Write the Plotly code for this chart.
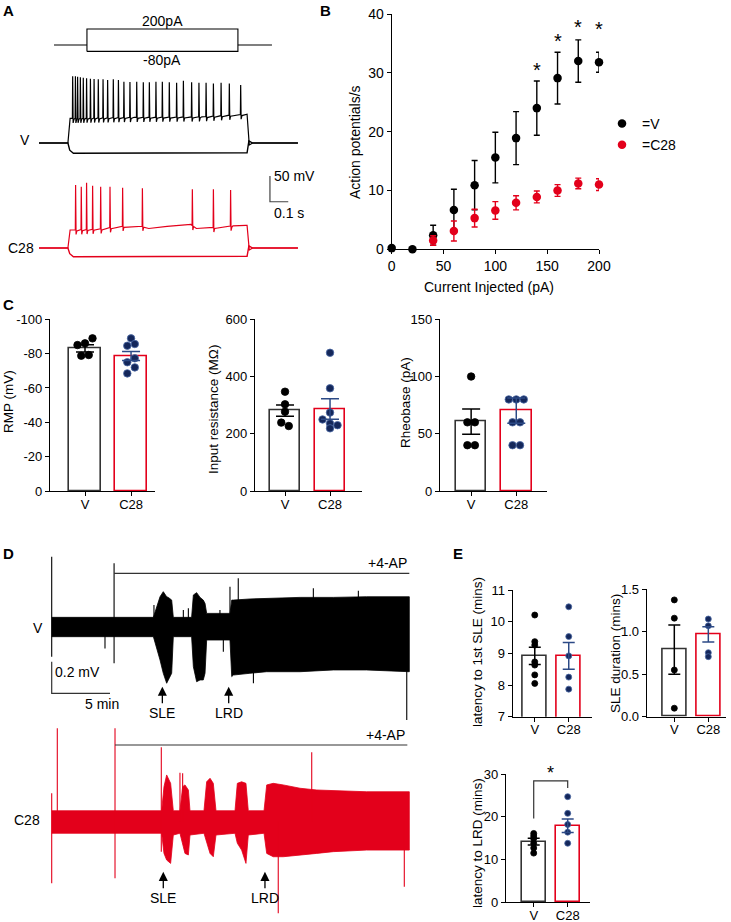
import numpy as np
import plotly.graph_objects as go

W, H = 731, 922
FONT = "Liberation Sans, Arial, Helvetica, sans-serif"
RED = "#e3001b"
NAVY = "#14275a"
NAVY_EDGE = "#4b6aa6"
NAVY_ERR = "#2c4a86"
BAR_V = "#333333"

# ---------------- Panel A: current-clamp traces ----------------
A_STIM_PA = [200, -80]            # step amplitudes (pA)
A_STIM_T = [0.262, 1.087]         # schematic step on/off (s)
A_STIM_LEAD = [0.082, 1.273]      # schematic lead start/end (s)
A_REST = -80                      # mV
A_ON, A_OFF, A_END = 0.158, 1.137, 1.415
A_V_SPK_T = [0.184, 0.199, 0.211, 0.226, 0.242, 0.260, 0.281, 0.301, 0.324, 0.350,
             0.375, 0.406, 0.434, 0.464, 0.497, 0.534, 0.570, 0.603, 0.639, 0.674,
             0.712, 0.752, 0.789, 0.834, 0.874, 0.913, 0.953, 0.995, 1.040, 1.102]
A_V_SPK_PK = [50, 50, 49, 47.8, 47, 45.8, 45.2, 44.5, 43.9, 43.9,
              42.6, 43.9, 42.6, 39.3, 38.7, 39.3, 38, 38, 39.3, 39.3,
              38, 37.4, 41.3, 38, 37.4, 37.4, 36, 37.4, 36, 32.8]
A_V_PLAT_T = [0.17, 0.52, 0.89, 1.13]
A_V_PLAT_MV = [-32, -30, -29, -24]
A_V_HYP = -100
A_C_SPK_T = [0.200, 0.231, 0.260, 0.293, 0.337, 0.388, 0.457, 0.565, 0.838, 0.953, 1.047]
A_C_SPK_PK = [42.6, 39.3, 47.1, 41.3, 39.3, 39.3, 37.4, 36.1, 34.1, 34.1, 32.8]
A_C_PLAT_T = [0.17, 0.33, 0.44, 0.56, 0.60, 0.70, 0.83, 0.86, 0.95, 1.06, 1.13]
A_C_PLAT_MV = [-45, -43, -38, -37, -42, -38, -34, -42, -40, -37, -36]
A_C_HYP = -97
A_SCALE_MV, A_SCALE_S = 50, 0.1
A_SCALE_AT = (1.262, 10)

# ---------------- Panel B: F-I curve ----------------
B_CURRENT = [0, 20, 40, 60, 80, 100, 120, 140, 160, 180, 200]
B_V_MEAN = [0.2, 0.0, 2.4, 6.7, 10.9, 15.6, 18.9, 24.0, 29.1, 32.0, 31.8]
B_V_SEM = [0, 0, 1.7, 3.5, 4.2, 4.3, 4.5, 4.6, 4.4, 3.6, 1.7]
B_C_CURRENT = [40, 60, 80, 100, 120, 140, 160, 180, 200]
B_C_MEAN = [1.5, 3.1, 5.3, 6.6, 7.9, 8.9, 10.0, 11.2, 11.0]
B_C_SEM = [0.8, 1.7, 1.5, 1.5, 1.2, 1.0, 1.0, 0.9, 1.0]
B_SIG_X = [140, 160, 180, 200]
B_SIG_Y = [31.0, 35.9, 38.3, 38.0]

# ---------------- Panel C: passive properties ----------------
GROUPS = ["V", "C28"]
RMP_V = [-88.9, -86.0, -85.0, -78.8, -79.2]
RMP_C = [-88.9, -85.6, -84.6, -75.0, -77.3, -72.0, -68.5]
RMP_MEAN, RMP_SEM = [-83.1, -78.6], [2.1, 2.6]
IR_V = [347, 303, 277, 239, 227]
IR_C = [483, 359, 274, 250, 236, 230, 219]
IR_MEAN, IR_SEM = [280.8, 286.6], [20, 36]
RH_V = [100, 60, 60, 40, 40]
RH_C = [80, 80, 80, 60, 60, 40, 40]
RH_MEAN, RH_SEM = [60.6, 70.2], [11, 11]

# ---------------- Panel D: extracellular recordings (envelopes, min / mV) ----------------
DV_T = [0, 8.72, 9.29, 9.57, 9.86, 10.0, 10.29, 10.43, 12.0, 12.15, 12.43, 12.72, 13.0, 13.15,
        13.29, 15.29, 15.44, 15.58, 17.0, 18.43, 21.3, 24.15, 27.0, 30.67]
DV_TOP = [0.059, 0.059, 0.189, 0.221, 0.189, 0.185, 0.168, 0.059, 0.059, 0.2, 0.215, 0.185, 0.168,
          0.147, 0.084, 0.084, 0.168, 0.168, 0.175, 0.179, 0.185, 0.185, 0.189, 0.189]
DV_BOT = [-0.063, -0.063, -0.21, -0.294, -0.357, -0.336, -0.294, -0.063, -0.063, -0.252, -0.347,
          -0.336, -0.336, -0.294, -0.084, -0.084, -0.315, -0.305, -0.294, -0.284, -0.284, -0.273,
          -0.273, -0.284]
DV_EV_T = [0, 4.57, 5.35, 8.77, 11.29, 11.72, 14.43, 14.72, 15.29, 16.0, 17.3, 22.44, 26.3, 30.45]
DV_EV_TOP = [0.442, 0.0, 0.40, 0.137, 0.105, 0.116, 0.105, 0.0, 0.252, 0.305, 0.0, 0.242, 0.227, 0.185]
DV_EV_BOT = [-0.189, -0.137, -0.231, 0.0, 0.0, 0.0, 0.0, -0.158, 0.0, 0.0, -0.357, 0.0, 0.0, -0.589]
DC_T = [0, 9.43, 9.63, 9.86, 10.2, 10.43, 11.0, 11.23, 11.43, 11.72, 11.86, 13.06, 13.29, 13.58,
        13.86, 14.09, 15.72, 15.92, 16.29, 16.66, 16.86, 18.21, 18.44, 19.0, 19.86, 21.3, 22.73,
        24.15, 27.0, 30.67]
DC_TOP = [0.069, 0.069, 0.221, 0.295, 0.242, 0.069, 0.069, 0.221, 0.232, 0.2, 0.069, 0.069, 0.252,
          0.274, 0.242, 0.069, 0.069, 0.242, 0.252, 0.242, 0.069, 0.069, 0.232, 0.242, 0.232, 0.211,
          0.2, 0.196, 0.189, 0.189]
DC_BOT = [-0.073, -0.073, -0.2, -0.242, -0.263, -0.084, -0.073, -0.136, -0.2, -0.21, -0.084, -0.073,
          -0.136, -0.2, -0.221, -0.084, -0.073, -0.136, -0.179, -0.263, -0.084, -0.073, -0.2, -0.221,
          -0.221, -0.21, -0.2, -0.189, -0.179, -0.179]
DC_EV_T = [0, 0.48, 5.43, 9.4, 11.0, 11.23, 19.43, 22.3, 30.24]
DC_EV_TOP = [0.179, 0.589, 0.589, 0.469, 0.309, 0.305, 0.0, 0.438, 0.0]
DC_EV_BOT = [-0.389, 0.05, -0.357, -0.189, 0.0, 0.0, -0.578, 0.0, -0.41]
D_AP4 = {"V": (5.35, 30.67, 0.337), "C28": (5.43, 30.5, 0.484)}
D_EVENTS = {"V": {"SLE": (9.49, -0.379), "LRD": (15.18, -0.379)},
            "C28": {"SLE": (9.57, -0.316), "LRD": (18.29, -0.316)}}
D_SCALE_MV, D_SCALE_MIN = 0.2, 5
D_SCALE_AT = (0, -0.421)

# ---------------- Panel E: seizure-like event measures ----------------
E1_V = [10.21, 9.37, 9.26, 8.73, 8.63, 8.32, 8.05]
E1_C = [10.47, 9.53, 8.92, 8.25, 7.87]
E1_MEAN, E1_SEM = [8.92, 8.92], [0.27, 0.42]
E2_V = [1.375, 1.16, 0.55, 0.10]
E2_C = [1.15, 1.07, 0.754, 0.707]
E2_MEAN, E2_SEM = [0.79, 0.97], [0.29, 0.09]
E3_V = [16.1, 15.5, 14.9, 13.8, 12.7, 11.5]
E3_C = [24.7, 20.8, 18.2, 16.4, 13.8]
E3_MEAN, E3_SEM = [14.2, 17.9], [0.8, 1.6]
E3_SIG = (19.6, 28.4, 26.7)


# ---------------- helpers ----------------
def xd(a, b):
    return [a / W, b / W]


def yd(top, bottom):
    return [1 - bottom / H, 1 - top / H]


def P(x, y):
    return dict(x=x / W, y=1 - y / H, xref="paper", yref="paper", xanchor="center", yanchor="middle")


fig = go.Figure()
ann = []


def depol_trace(spk_t, spk_pk, plat_t, plat_mv):
    pts = [(0, A_REST), (A_ON, A_REST)]
    pts += list(zip(plat_t, plat_mv))
    for t, pk in zip(spk_t, spk_pk):
        base = float(np.interp(t, plat_t, plat_mv))
        pts += [(t - 0.0015, base), (t, pk), (t + 0.0025, base - 9), (t + 0.007, base - 2)]
    pts.sort(key=lambda p: p[0])
    pts += [(A_OFF, plat_mv[-1]), (A_OFF + 0.012, A_REST - 4), (A_OFF + 0.03, A_REST), (A_END, A_REST)]
    return [p[0] for p in pts], [p[1] for p in pts]


def hyper_trace(hyp):
    ts = [0, A_ON, A_ON + 0.01, A_ON + 0.03, A_OFF, A_OFF + 0.01, A_OFF + 0.03, A_END]
    vs = [A_REST, A_REST, hyp + 6, hyp, hyp + 1, A_REST + 4, A_REST, A_REST]
    return ts, vs


# ---- Panel A
sx = [A_STIM_LEAD[0], A_STIM_T[0], None,
      A_STIM_T[0], A_STIM_T[0], A_STIM_T[1], A_STIM_T[1], A_STIM_T[0], None,
      A_STIM_T[1], A_STIM_LEAD[1]]
sy = [0, 0, None,
      A_STIM_PA[1], A_STIM_PA[0], A_STIM_PA[0], A_STIM_PA[1], A_STIM_PA[1], None,
      0, 0]
fig.add_trace(go.Scatter(x=sx, y=sy, mode="lines", line=dict(color="black", width=1.1),
                         xaxis="x", yaxis="y", showlegend=False, hoverinfo="skip"))
for yaxis, color, spk_t, spk_pk, pt, pm, hyp in [
        ("y2", "black", A_V_SPK_T, A_V_SPK_PK, A_V_PLAT_T, A_V_PLAT_MV, A_V_HYP),
        ("y3", RED, A_C_SPK_T, A_C_SPK_PK, A_C_PLAT_T, A_C_PLAT_MV, A_C_HYP)]:
    hx, hy = hyper_trace(hyp)
    fig.add_trace(go.Scatter(x=hx, y=hy, mode="lines", line=dict(color=color, width=1.4),
                             xaxis="x", yaxis=yaxis, showlegend=False, hoverinfo="skip"))
    dx, dy = depol_trace(spk_t, spk_pk, pt, pm)
    fig.add_trace(go.Scatter(x=dx, y=dy, mode="lines", line=dict(color=color, width=1.2),
                             xaxis="x", yaxis=yaxis, showlegend=False, hoverinfo="skip"))
# scale bar A
t0, v0 = A_SCALE_AT
fig.add_trace(go.Scatter(x=[t0, t0, t0 + A_SCALE_S], y=[v0 + A_SCALE_MV, v0, v0], mode="lines",
                         line=dict(color="#444", width=1.2), xaxis="x", yaxis="y3",
                         showlegend=False, hoverinfo="skip"))
ann.append(dict(x=t0, y=v0 + A_SCALE_MV, xref="x", yref="y3", text=f"{A_SCALE_MV} mV",
                xanchor="left", yanchor="middle", xshift=2, showarrow=False, font=dict(size=14)))
ann.append(dict(x=t0, y=v0, xref="x", yref="y3", text=f"{A_SCALE_S} s",
                xanchor="left", yanchor="top", xshift=2, yshift=-1, showarrow=False, font=dict(size=14)))
mid = (A_STIM_T[0] + A_STIM_T[1]) / 2
ann.append(dict(x=mid, y=A_STIM_PA[0], xref="x", yref="y", text=f"{A_STIM_PA[0]}pA", xanchor="center",
                yanchor="bottom", showarrow=False, font=dict(size=14), yshift=-2))
ann.append(dict(x=mid, y=A_STIM_PA[1], xref="x", yref="y", text=f"{A_STIM_PA[1]}pA", xanchor="center",
                yanchor="top", showarrow=False, font=dict(size=14), yshift=1))
ann.append(dict(**P(25, 140), text="V", showarrow=False, font=dict(size=14)))
ann.append(dict(**P(21, 248), text="C28", showarrow=False, font=dict(size=14)))

# ---- Panel B
fig.add_trace(go.Scatter(x=B_CURRENT, y=B_V_MEAN, mode="markers", name="=V",
                         marker=dict(color="black", size=8.5),
                         error_y=dict(type="data", array=B_V_SEM, color="black", thickness=1.4, width=3),
                         xaxis="x4", yaxis="y4", cliponaxis=False))
fig.add_trace(go.Scatter(x=B_C_CURRENT, y=B_C_MEAN, mode="markers", name="=C28",
                         marker=dict(color=RED, size=8.5),
                         error_y=dict(type="data", array=B_C_SEM, color=RED, thickness=1.4, width=3),
                         xaxis="x4", yaxis="y4", cliponaxis=False))
for sxv, syv in zip(B_SIG_X, B_SIG_Y):
    ann.append(dict(x=sxv, y=syv, xref="x4", yref="y4", text="*", showarrow=False, xanchor="center",
                    font=dict(size=20), yanchor="middle", yshift=-3))


# ---- bar charts (C and E)
def row_swarm(values, y_ppu, x_ppu, diam):
    order = sorted(range(len(values)), key=lambda i: -values[i])
    rows, cur = [], []
    for i in order:
        if cur and abs(values[cur[0]] - values[i]) * y_ppu >= 0.9 * diam:
            rows.append(cur)
            cur = []
        cur.append(i)
    if cur:
        rows.append(cur)
    offs = [0.0] * len(values)
    for r in rows:
        n = len(r)
        for j, i in enumerate(r):
            offs[i] = (j - (n - 1) / 2) * diam / x_ppu
    return offs


def bar_chart(n, vals_v, vals_c, means, sems, xdom_px, ydom_px, xr, yr, dot, cap, swarm=True):
    xa, ya = f"x{n}", f"y{n}"
    fig.add_trace(go.Bar(x=[0, 1], y=means, width=0.68 if n < 10 else 0.7,
                         marker=dict(color="white", line=dict(color=[BAR_V, RED], width=1.6)),
                         xaxis=xa, yaxis=ya, showlegend=False, hoverinfo="skip"))
    x_ppu = (xdom_px[1] - xdom_px[0]) / (xr[1] - xr[0])
    y_ppu = (ydom_px[1] - ydom_px[0]) / abs(yr[1] - yr[0])
    for k, (vals, fill, edge) in enumerate([(vals_v, "black", "black"), (vals_c, NAVY, NAVY_EDGE)]):
        offs = row_swarm(vals, y_ppu, x_ppu, dot) if swarm else [0] * len(vals)
        fig.add_trace(go.Scatter(x=[k + o for o in offs], y=vals, mode="markers",
                                 marker=dict(color=fill, size=dot, line=dict(color=edge, width=0.8)),
                                 xaxis=xa, yaxis=ya, showlegend=False, cliponaxis=False, hoverinfo="skip"))
    for k, col in enumerate(["black", NAVY_ERR]):
        fig.add_trace(go.Scatter(x=[k], y=[means[k]], mode="markers",
                                 marker=dict(size=1, color="rgba(0,0,0,0)"),
                                 error_y=dict(type="data", array=[sems[k]], color=col, thickness=1.5, width=cap),
                                 xaxis=xa, yaxis=ya, showlegend=False, hoverinfo="skip"))


bar_chart(5, RMP_V, RMP_C, RMP_MEAN, RMP_SEM, (50, 155), (319.3, 491), (-0.76, 1.52), (0, -100), 7.5, 9)
bar_chart(6, IR_V, IR_C, IR_MEAN, IR_SEM, (255, 361.7), (319.3, 491), (-0.667, 1.704), (0, 600), 7.5, 9)
bar_chart(7, RH_V, RH_C, RH_MEAN, RH_SEM, (440, 546.7), (319.3, 491), (-0.69, 1.674), (0, 150), 7.5, 9)
bar_chart(10, E1_V, E1_C, E1_MEAN, E1_SEM, (512.7, 591.7), (590, 716.7), (-0.65, 1.676), (7, 11), 6, 6, swarm=False)
bar_chart(11, E2_V, E2_C, E2_MEAN, E2_SEM, (646.7, 726), (589.3, 716.7), (-0.812, 1.52), (0, 1.5), 6, 6, swarm=False)
bar_chart(12, E3_V, E3_C, E3_MEAN, E3_SEM, (506, 590), (774, 902.3), (-0.815, 1.656), (0, 30), 6, 6, swarm=False)

# significance bracket E3
fig.add_trace(go.Scatter(x=[0, 0, 1, 1], y=[E3_SIG[0], E3_SIG[1], E3_SIG[1], E3_SIG[2]], mode="lines",
                         line=dict(color="#333", width=1.2), xaxis="x12", yaxis="y12",
                         showlegend=False, hoverinfo="skip", cliponaxis=False))
ann.append(dict(x=0.5, y=E3_SIG[1], xref="x12", yref="y12", text="*", showarrow=False, xanchor="center",
                yanchor="bottom", font=dict(size=18), yshift=-4))


# ---- Panel D
def env_trace(t, top, bot, color, yaxis):
    fig.add_trace(go.Scatter(x=list(t) + list(t)[::-1], y=list(top) + list(bot)[::-1], mode="lines",
                             fill="toself", fillcolor=color, line=dict(color=color, width=0.8),
                             xaxis="x8", yaxis=yaxis, showlegend=False, hoverinfo="skip"))


def events_trace(t, top, bot, color, yaxis):
    xs, ys = [], []
    for a, b, c in zip(t, top, bot):
        xs += [a, a, None]
        ys += [c, b, None]
    fig.add_trace(go.Scatter(x=xs, y=ys, mode="lines", line=dict(color=color, width=1.1),
                             xaxis="x8", yaxis=yaxis, showlegend=False, hoverinfo="skip"))


env_trace(DV_T, DV_TOP, DV_BOT, "black", "y8")
events_trace(DV_EV_T, DV_EV_TOP, DV_EV_BOT, "black", "y8")
env_trace(DC_T, DC_TOP, DC_BOT, RED, "y9")
events_trace(DC_EV_T, DC_EV_TOP, DC_EV_BOT, RED, "y9")
for key, yaxis in [("V", "y8"), ("C28", "y9")]:
    a, b, lvl = D_AP4[key]
    fig.add_trace(go.Scatter(x=[a, b], y=[lvl, lvl], mode="lines", line=dict(color="#333", width=1.2),
                             xaxis="x8", yaxis=yaxis, showlegend=False, hoverinfo="skip"))
    ann.append(dict(x=b, y=lvl, xref="x8", yref=yaxis, text="+4-AP", showarrow=False,
                    xanchor="right", yanchor="bottom", font=dict(size=14), yshift=0))
    for lab, (et, ev) in D_EVENTS[key].items():
        ann.append(dict(x=et, y=ev, xref="x8", yref=yaxis, text=lab, showarrow=True,
                        ax=0, ay=26, arrowhead=2, arrowsize=1.4, arrowwidth=1.3, arrowcolor="black",
                        standoff=0, font=dict(size=14)))
ts0, vs0 = D_SCALE_AT
fig.add_trace(go.Scatter(x=[ts0, ts0, ts0 + D_SCALE_MIN], y=[vs0 + D_SCALE_MV, vs0, vs0], mode="lines",
                         line=dict(color="#333", width=1.2), xaxis="x8", yaxis="y8",
                         showlegend=False, hoverinfo="skip"))
ann.append(dict(x=ts0, y=vs0 + D_SCALE_MV, xref="x8", yref="y8", text=f"{D_SCALE_MV} mV",
                showarrow=False, xanchor="left", yanchor="top", xshift=1, font=dict(size=14)))
ann.append(dict(x=ts0 + D_SCALE_MIN, y=vs0, xref="x8", yref="y8", text=f"{D_SCALE_MIN} min",
                showarrow=False, xanchor="right", yanchor="top", xshift=11, yshift=-1, font=dict(size=14)))
ann.append(dict(**P(38, 628), text="V", showarrow=False, font=dict(size=14)))
ann.append(dict(**P(27, 820), text="C28", showarrow=False, font=dict(size=14)))

# ---- panel letters and axis titles
for letter, (x, y) in {"A": (8, 10), "B": (325, 10), "C": (8, 304), "D": (8, 553), "E": (458, 553)}.items():
    ann.append(dict(**P(x, y), text=f"<b>{letter}</b>", showarrow=False, font=dict(size=15)))
ytitles = [("Action potentials/s", 355, 142, 14), ("RMP (mV)", 8, 402, 13.5),
           ("Input resistance (MΩ)", 213, 410, 13.5), ("Rheobase (pA)", 405, 403, 13.5),
           ("latency to 1st SLE (mins)", 477, 652, 13.5), ("SLE duration (mins)", 615, 654, 13.5),
           ("latency to LRD (mins)", 477, 843, 13.5)]
for txt, x, y, fs in ytitles:
    ann.append(dict(**P(x, y), text=txt, textangle=-90, showarrow=False, font=dict(size=fs)))
ann.append(dict(**P(489, 287), text="Current Injected (pA)", showarrow=False, font=dict(size=14)))


# ---- axes
def axis(**kw):
    d = dict(showline=True, linecolor="black", linewidth=1.2, ticks="outside", ticklen=4, tickwidth=1.2,
             tickcolor="black", showgrid=False, zeroline=False, fixedrange=True, automargin=False,
             tickfont=dict(family=FONT, size=13, color="black"))
    d.update(kw)
    return d


def hidden(**kw):
    d = dict(visible=False, showgrid=False, zeroline=False, fixedrange=True, automargin=False)
    d.update(kw)
    return d


cat = dict(tickmode="array", tickvals=[0, 1], ticktext=GROUPS, ticklabelstandoff=-3)
layout = dict(
    template="none",
    width=W, height=H, autosize=False,
    margin=dict(l=0, r=0, t=0, b=0, pad=0, autoexpand=False),
    paper_bgcolor="white", plot_bgcolor="rgba(0,0,0,0)",
    font=dict(family=FONT, color="black"), bargap=0,
    xaxis=hidden(domain=xd(30, 305), range=[(30 - 39) / 183, (305 - 39) / 183]),
    yaxis=hidden(domain=yd(10, 70), range=[-312.5, 437.5], anchor="x"),
    yaxis2=hidden(domain=yd(60, 170), range=[-132.5, 81.5], anchor="x"),
    yaxis3=hidden(domain=yd(165, 275), range=[-132.5, 81.5], anchor="x"),
    xaxis4=axis(domain=xd(391.7, 599), range=[0, 200], anchor="y4", tickvals=[0, 50, 100, 150, 200],
                tickfont=dict(size=14)),
    yaxis4=axis(domain=yd(14, 249.3), range=[0, 40], anchor="x4", tickvals=[0, 10, 20, 30, 40],
                tickfont=dict(size=14)),
    xaxis5=axis(domain=xd(50, 155), range=[-0.76, 1.52], anchor="y5", **cat),
    yaxis5=axis(domain=yd(319.3, 491), range=[0, -100], anchor="x5", tickmode="array",
                tickvals=[0, -20, -40, -60, -80, -100], ticktext=["0", "-20", "-40", "-60", "-80", "-100"]),
    xaxis6=axis(domain=xd(255, 361.7), range=[-0.667, 1.704], anchor="y6", **cat),
    yaxis6=axis(domain=yd(319.3, 491), range=[0, 600], anchor="x6", tickvals=[0, 200, 400, 600]),
    xaxis7=axis(domain=xd(440, 546.7), range=[-0.69, 1.674], anchor="y7", **cat),
    yaxis7=axis(domain=yd(319.3, 491), range=[0, 150], anchor="x7", tickvals=[0, 50, 100, 150]),
    xaxis8=hidden(domain=xd(40, 420), range=[(40 - 51.7) / 11.66, (420 - 51.7) / 11.66]),
    yaxis8=hidden(domain=yd(550, 722), range=[(626.7 - 722) * 0.00631, (626.7 - 550) * 0.00631], anchor="x8"),
    yaxis9=hidden(domain=yd(722, 915), range=[(821.7 - 915) * 0.00631, (821.7 - 722) * 0.00631], anchor="x8"),
    xaxis10=axis(domain=xd(512.7, 591.7), range=[-0.65, 1.676], anchor="y10", **cat),
    yaxis10=axis(domain=yd(590, 716.7), range=[7, 11], anchor="x10", tickvals=[7, 8, 9, 10, 11]),
    xaxis11=axis(domain=xd(646.7, 726), range=[-0.812, 1.52], anchor="y11", **cat),
    yaxis11=axis(domain=yd(589.3, 716.7), range=[0, 1.5], anchor="x11", tickvals=[0, 0.5, 1.0, 1.5],
                 ticktext=["0.0", "0.5", "1.0", "1.5"]),
    xaxis12=axis(domain=xd(506, 590), range=[-0.815, 1.656], anchor="y12", **cat),
    yaxis12=axis(domain=yd(774, 902.3), range=[0, 30], anchor="x12", tickvals=[0, 10, 20, 30]),
    legend=dict(x=602 / W, y=1 - 108 / H, xanchor="left", yanchor="top", font=dict(size=14),
                bgcolor="rgba(0,0,0,0)", itemwidth=30, tracegroupgap=0, itemclick=False),
    annotations=ann,
)
fig.update_layout(**layout)
fig.write_html(
    "out.html",
    config={"displayModeBar": False, "staticPlot": False},
    post_script="document.body.style.margin='0px';document.body.style.padding='0px';"
                "document.documentElement.style.overflow='hidden';",
)
